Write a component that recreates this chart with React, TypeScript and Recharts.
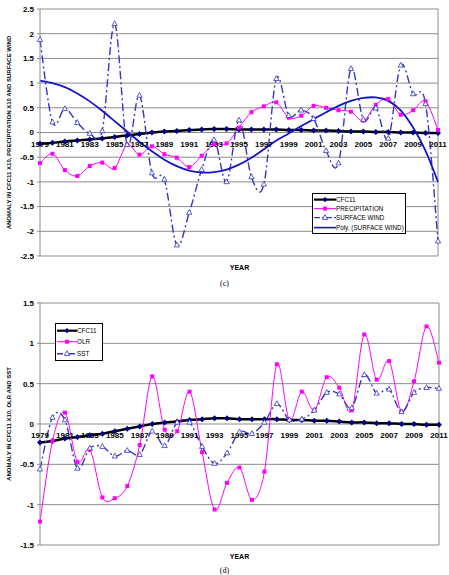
import { LineChart, Line, XAxis, YAxis, CartesianGrid, ReferenceLine, ReferenceDot } from 'recharts';

const years = [
  1979, 1980, 1981, 1982, 1983, 1984, 1985, 1986, 1987, 1988, 1989, 1990, 1991, 1992, 1993, 1994, 1995,
  1996, 1997, 1998, 1999, 2000, 2001, 2002, 2003, 2004, 2005, 2006, 2007, 2008, 2009, 2010, 2011,
];
const yearLabels = [
  1979, 1981, 1983, 1985, 1987, 1989, 1991, 1993, 1995, 1997, 1999, 2001, 2003, 2005, 2007, 2009, 2011,
];

// CFC11 anomaly x10 (shared by both panels)
const cfc11 = [
  -0.23, -0.21, -0.18, -0.16, -0.14, -0.12, -0.09, -0.06, -0.03, 0, 0.02, 0.03, 0.05, 0.06, 0.07, 0.07, 0.06,
  0.06, 0.06, 0.06, 0.05, 0.05, 0.04, 0.04, 0.03, 0.02, 0.02, 0.01, 0.01, 0, 0, -0.01, -0.01,
];
const precipitation = [
  -0.62, -0.43, -0.76, -0.88, -0.68, -0.61, -0.72, -0.25, -0.45, -0.28, -0.44, -0.51, -0.7, -0.47, -0.24, -0.22,
  0.1, 0.41, 0.53, 0.61, 0.3, 0.34, 0.54, 0.5, 0.45, 0.42, 0.24, 0.56, 0.68, 0.36, 0.45, 0.63, 0.05,
];
const surfaceWind = [
  1.88, 0.21, 0.48, 0.2, -0.02, 0.03, 2.2, -0.25, 0.75, -0.82, -0.95, -2.28, -1.62, -0.75, -0.15, -1.0, 0.25,
  -0.9, -1.05, 1.09, 0.34, 0.45, 0.28, -0.37, -0.62, 1.29, 0.26, 0.49, -0.12, 1.36, 0.78, 0.58, -2.2,
];
// polynomial trend of surface wind
const surfaceWindPoly = [
  1.05, 1.0, 0.92, 0.79, 0.63, 0.44, 0.23, 0.02, -0.19, -0.38, -0.55, -0.68, -0.77, -0.81, -0.8, -0.75, -0.65,
  -0.51, -0.34, -0.16, -0.02, 0.13, 0.27, 0.41, 0.54, 0.64, 0.7, 0.71, 0.64, 0.45, 0.1, -0.37, -1.0,
];
const olr = [
  -1.21, -0.21, 0.14, -0.47, -0.32, -0.91, -0.92, -0.77, -0.26, 0.59, -0.07, -0.09, 0.4, -0.35, -1.06, -0.73,
  -0.54, -0.94, -0.59, 0.74, 0.05, 0.4, 0.17, 0.58, 0.45, 0.17, 1.11, 0.55, 0.78, 0.15, 0.53, 1.21, 0.76,
];
const sst = [
  -0.56, 0.08, 0.05, -0.55, -0.3, -0.28, -0.4, -0.33, -0.38, -0.09, -0.27, 0.02, 0.02, -0.28, -0.49, -0.36,
  -0.1, -0.12, 0.02, 0.25, 0.05, 0.06, 0.17, 0.39, 0.37, 0.2, 0.61, 0.38, 0.43, 0.15, 0.39, 0.45, 0.44,
];

const ticksC = [-2.5, -2, -1.5, -1, -0.5, 0, 0.5, 1, 1.5, 2, 2.5];
const ticksD = [-1.5, -1, -0.5, 0, 0.5, 1, 1.5];

const dataC = years.map((year, i) => ({
  year,
  cfc11: cfc11[i],
  precipitation: precipitation[i],
  wind: surfaceWind[i],
  windPoly: surfaceWindPoly[i],
}));
const dataD = years.map((year, i) => ({ year, cfc11: cfc11[i], olr: olr[i], sst: sst[i] }));

const FONT = '"Liberation Sans", Arial, sans-serif';
const GRID = '#8c8c8c';
const MAGENTA = '#ff00ff';
const WIND = '#3535c8';
const POLY = '#1414c8';
const DASHDOT = '8 3 2 3';

// smoothed line through the points, cubic Bezier with 1/6 neighbour tangents
const smooth = (context: any) => {
  let pts: number[][] = [];
  return {
    areaStart() {},
    areaEnd() {},
    lineStart() {
      pts = [];
    },
    lineEnd() {
      if (!pts.length) return;
      context.moveTo(pts[0][0], pts[0][1]);
      for (let i = 0; i < pts.length - 1; i++) {
        const p0 = pts[i - 1] || pts[i];
        const p1 = pts[i];
        const p2 = pts[i + 1];
        const p3 = pts[i + 2] || p2;
        context.bezierCurveTo(
          p1[0] + (p2[0] - p0[0]) / 6,
          p1[1] + (p2[1] - p0[1]) / 6,
          p2[0] - (p3[0] - p1[0]) / 6,
          p2[1] - (p3[1] - p1[1]) / 6,
          p2[0],
          p2[1]
        );
      }
    },
    point(x: number, y: number) {
      pts.push([+x, +y]);
    },
  };
};

const diamond = (cx: number, cy: number, r: number) =>
  `M${cx},${cy - r}L${cx + r},${cy}L${cx},${cy + r}L${cx - r},${cy}Z`;
const triangle = (cx: number, cy: number) =>
  `M${cx},${cy - 3}L${cx + 2.6},${cy + 1.8}L${cx - 2.6},${cy + 1.8}Z`;

const DiamondDot = (p: any) => (
  <path key={`dia-${p.index}`} d={diamond(p.cx, p.cy, 3)} fill="#000080" />
);
const SquareDot = (p: any) => (
  <rect key={`sq-${p.index}`} x={p.cx - 2} y={p.cy - 2} width={4} height={4} fill={MAGENTA} />
);
const TriangleDot = (p: any) => (
  <path key={`tri-${p.index}`} d={triangle(p.cx, p.cy)} fill="#fff" stroke={WIND} strokeWidth={0.8} />
);

const yearTickLabel = (year: number) => (p: any) => {
  const vb = p.viewBox;
  return (
    <text
      x={vb.x + vb.width / 2}
      y={vb.y + vb.height / 2 + 14}
      textAnchor="middle"
      fontFamily={FONT}
      fontSize={8}
      fontWeight="bold"
      fill="#000"
    >
      {year}
    </text>
  );
};

const axisTitle = (text: string) => (p: any) => {
  const vb = p.viewBox;
  const cx = 11;
  const cy = vb.y + vb.height / 2;
  return (
    <text
      x={cx}
      y={cy}
      transform={`rotate(-90 ${cx} ${cy})`}
      textAnchor="middle"
      fontFamily={FONT}
      fontSize={6}
      fontWeight="bold"
      fill="#000"
    >
      {text}
    </text>
  );
};

interface LegendItem {
  name: string;
  color: string;
  width: number;
  dash?: string;
  marker?: 'diamond' | 'square' | 'triangle';
}

function LegendBox({ items, left, top, width, rowHeight, sampleWidth }: {
  items: LegendItem[];
  left: number;
  top: number;
  width: number;
  rowHeight: number;
  sampleWidth: number;
}) {
  return (
    <div
      style={{
        position: 'absolute',
        left,
        top,
        width,
        border: '1px solid #000',
        background: '#fff',
        padding: '1px 0 1px 0',
        fontFamily: FONT,
        fontSize: 6.3,
        lineHeight: `${rowHeight}px`,
      }}
    >
      {items.map(it => {
        const mx = sampleWidth / 2;
        const my = rowHeight / 2;
        return (
          <div key={it.name} style={{ display: 'flex', alignItems: 'center', height: rowHeight, whiteSpace: 'nowrap' }}>
            <svg width={sampleWidth} height={rowHeight} style={{ flex: 'none', marginLeft: 1 }}>
              <line x1={0} x2={sampleWidth} y1={my} y2={my} stroke={it.color} strokeWidth={it.width} strokeDasharray={it.dash} />
              {it.marker === 'diamond' && <path d={diamond(mx, my, 2.6)} fill="#000080" />}
              {it.marker === 'square' && <rect x={mx - 2} y={my - 2} width={4} height={4} fill={MAGENTA} />}
              {it.marker === 'triangle' && <path d={triangle(mx, my)} fill="#fff" stroke={WIND} strokeWidth={0.8} />}
            </svg>
            <span>{it.name}</span>
          </div>
        );
      })}
    </div>
  );
}

const caption: React.CSSProperties = {
  position: 'absolute',
  left: 0,
  width: 449,
  textAlign: 'center',
  fontFamily: '"Liberation Serif", "Times New Roman", serif',
  fontSize: 8,
};
const yearTitle: React.CSSProperties = {
  position: 'absolute',
  left: 40,
  width: 399,
  textAlign: 'center',
  fontFamily: FONT,
  fontSize: 7,
  fontWeight: 'bold',
};

export default function App() {
  return (
    <div style={{ position: 'absolute', left: 0, top: 0, width: 449, height: 575, background: '#fff', overflow: 'hidden' }}>
      <div style={{ position: 'absolute', left: 0, top: 0 }}>
        <LineChart width={449} height={290} data={dataC} margin={{ top: 9, right: 11, bottom: 34, left: 0 }}>
          <CartesianGrid vertical={false} stroke={GRID} />
          <XAxis dataKey="year" hide />
          <YAxis
            domain={[-2.5, 2.5]}
            ticks={ticksC}
            width={40}
            tickSize={3}
            tickMargin={3}
            axisLine={{ stroke: GRID }}
            tickLine={{ stroke: GRID }}
            tick={{ fontSize: 8, fontWeight: 'bold', fill: '#000', fontFamily: FONT }}
            label={{ content: axisTitle('ANOMALY IN CFC11 X10, PRECIPITATION X10 AND SURFACE WIND') }}
          />
          <ReferenceLine x={2011} stroke={GRID} />
          {yearLabels.map(y => (
            <ReferenceDot key={y} x={y} y={0} r={0} fill="none" stroke="none" label={{ content: yearTickLabel(y) }} />
          ))}
          <Line dataKey="cfc11" type={smooth as any} stroke="#000" strokeWidth={2.5} dot={DiamondDot} isAnimationActive={false} />
          <Line dataKey="precipitation" type={smooth as any} stroke={MAGENTA} strokeWidth={1} dot={SquareDot} isAnimationActive={false} />
          <Line dataKey="wind" type={smooth as any} stroke={WIND} strokeWidth={1.4} strokeDasharray={DASHDOT} dot={TriangleDot} isAnimationActive={false} />
          <Line dataKey="windPoly" type={smooth as any} stroke={POLY} strokeWidth={1.8} dot={false} isAnimationActive={false} />
        </LineChart>
      </div>
      <LegendBox
        left={312}
        top={193}
        width={92}
        rowHeight={9.2}
        sampleWidth={22}
        items={[
          { name: 'CFC11', color: '#000', width: 2.2, marker: 'diamond' },
          { name: 'PRECIPITATION', color: MAGENTA, width: 1, marker: 'square' },
          { name: 'SURFACE WIND', color: WIND, width: 1.4, dash: '6 2 2 2', marker: 'triangle' },
          { name: 'Poly. (SURFACE WIND)', color: POLY, width: 1.6 },
        ]}
      />
      <div style={{ ...yearTitle, top: 264 }}>YEAR</div>
      <div style={{ ...caption, top: 279 }}>(c)</div>

      <div style={{ position: 'absolute', left: 0, top: 290 }}>
        <LineChart width={449} height={285} data={dataD} margin={{ top: 13, right: 10, bottom: 30, left: 0 }}>
          <CartesianGrid vertical={false} stroke={GRID} />
          <XAxis dataKey="year" hide />
          <YAxis
            domain={[-1.5, 1.5]}
            ticks={ticksD}
            width={40}
            tickSize={3}
            tickMargin={3}
            axisLine={{ stroke: GRID }}
            tickLine={{ stroke: GRID }}
            tick={{ fontSize: 8, fontWeight: 'bold', fill: '#000', fontFamily: FONT }}
            label={{ content: axisTitle('ANOMALY IN CFC11 X10, OLR AND SST') }}
          />
          <ReferenceLine x={2011} stroke={GRID} />
          {yearLabels.map(y => (
            <ReferenceDot key={y} x={y} y={0} r={0} fill="none" stroke="none" label={{ content: yearTickLabel(y) }} />
          ))}
          <Line dataKey="cfc11" type={smooth as any} stroke="#000" strokeWidth={2.5} dot={DiamondDot} isAnimationActive={false} />
          <Line dataKey="olr" type={smooth as any} stroke={MAGENTA} strokeWidth={1} dot={SquareDot} isAnimationActive={false} />
          <Line dataKey="sst" type={smooth as any} stroke={WIND} strokeWidth={1.4} strokeDasharray={DASHDOT} dot={TriangleDot} isAnimationActive={false} />
        </LineChart>
      </div>
      <LegendBox
        left={55}
        top={323}
        width={46}
        rowHeight={11.4}
        sampleWidth={20}
        items={[
          { name: 'CFC11', color: '#000', width: 2.2, marker: 'diamond' },
          { name: 'OLR', color: MAGENTA, width: 1, marker: 'square' },
          { name: 'SST', color: WIND, width: 1.4, dash: '6 2 2 2', marker: 'triangle' },
        ]}
      />
      <div style={{ ...yearTitle, top: 553 }}>YEAR</div>
      <div style={{ ...caption, top: 566 }}>(d)</div>
    </div>
  );
}
